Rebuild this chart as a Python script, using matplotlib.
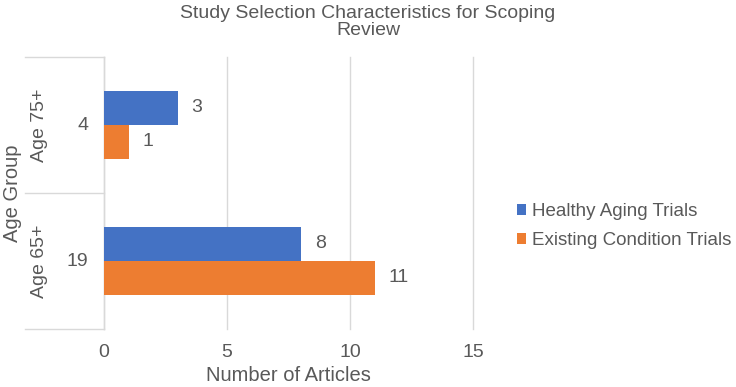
import matplotlib.pyplot as plt
from matplotlib.patches import Patch
from matplotlib.transforms import blended_transform_factory
import numpy as np

plt.rcParams["font.family"] = ["Liberation Sans", "DejaVu Sans"]

# data
age_groups = ["Age 75+", "Age 65+"]
group_totals = [4, 19]
healthy_aging = [3, 8]
existing_condition = [1, 11]
series_names = ["Healthy Aging Trials", "Existing Condition Trials"]
x_ticks = [0, 5, 10, 15]

BLUE = "#4472C4"
ORANGE = "#ED7D31"
TEXT = "#595959"
GRID = "#D9D9D9"
FS = 14
FS_AX = 14.5
FS_LEG = 13.5

fig = plt.figure(figsize=(7.36, 3.87), dpi=100)
ax = fig.add_axes([104 / 736, 1 - 329 / 387, 369 / 736, 272 / 387])

# top category at the top
ypos = np.arange(len(age_groups))[::-1]
bh = 0.25
ax.barh(ypos + bh / 2, healthy_aging, height=bh, color=BLUE, zorder=3)
ax.barh(ypos - bh / 2, existing_condition, height=bh, color=ORANGE, zorder=3)

for y, v in zip(ypos, healthy_aging):
    ax.annotate(str(v), (v, y + bh / 2), xytext=(10, 0), textcoords="offset points",
                ha="left", va="center", fontsize=FS, color=TEXT)
for y, v in zip(ypos, existing_condition):
    ax.annotate(str(v), (v, y - bh / 2), xytext=(10, 0), textcoords="offset points",
                ha="left", va="center", fontsize=FS, color=TEXT)

ax.set_xlim(0, 15)
ax.set_ylim(-0.5, len(age_groups) - 0.5)
ax.set_xticks(x_ticks)
ax.set_xticklabels([str(t) for t in x_ticks], fontsize=FS, color=TEXT)
ax.set_yticks([])
ax.tick_params(axis="x", length=0, pad=11)
ax.grid(axis="x", color=GRID, linewidth=1, zorder=0)
for gl in ax.get_xgridlines():
    gl.set_clip_on(False)
for side in ["top", "right", "bottom"]:
    ax.spines[side].set_visible(False)
ax.spines["left"].set_color(GRID)
ax.spines["left"].set_linewidth(1)

ax.set_xlabel("Number of Articles", fontsize=FS_AX, color=TEXT)
ax.xaxis.set_label_coords(0.5, -0.135)

# multi-level category axis
trans = blended_transform_factory(ax.transAxes, ax.transData)
for y, name, tot in zip(ypos, age_groups, group_totals):
    ax.text(-0.043, y, str(tot), transform=trans, ha="right", va="center",
            fontsize=FS, color=TEXT)
    ax.text(-0.175, y, name, transform=trans, ha="center", va="center",
            rotation=90, fontsize=FS, color=TEXT)
for yb in np.arange(-0.5, len(age_groups), 1.0):
    ax.plot([-0.214, 0], [yb, yb], transform=trans, color=GRID, lw=1, clip_on=False)
ax.text(-0.248, 0.5, "Age Group", transform=ax.transAxes, ha="center", va="center",
        rotation=90, fontsize=FS_AX, color=TEXT)

handles = [Patch(facecolor=BLUE), Patch(facecolor=ORANGE)]
fig.legend(handles, series_names, loc="center left", bbox_to_anchor=(517 / 736, 1 - 226 / 387),
           frameon=False, fontsize=FS_LEG, labelcolor=TEXT, handlelength=0.5, handleheight=0.5,
           handletextpad=0.3, labelspacing=0.65, borderpad=0, borderaxespad=0)

fig.text(0.5, 1 - 22 / 387, "Study Selection Characteristics for Scoping\nReview",
         ha="center", va="center", fontsize=FS, color=TEXT, linespacing=1.05)

fig.savefig("out.png", dpi=100)
